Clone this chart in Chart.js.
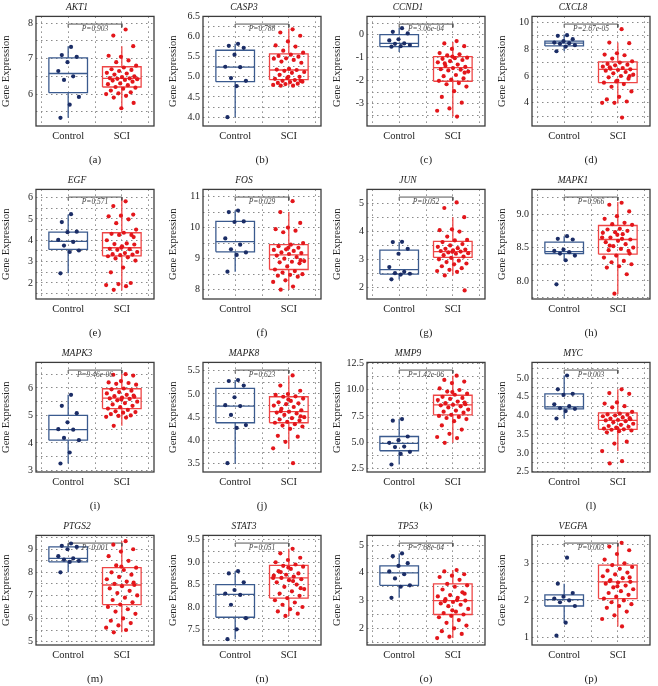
<!DOCTYPE html>
<html>
<head>
<meta charset="utf-8">
<script src="https://cdn.jsdelivr.net/npm/chart.js@4/dist/chart.umd.min.js"></script>
<style>
  body { margin: 0; background: #fff; }
  #wrap { position: relative; width: 658px; height: 686px; overflow: hidden; background: #fff; }
  #wrap canvas { position: absolute; }
</style>
</head>
<body>
<div id="wrap"></div>
<script>
// panel labels
const genes = ["AKT1", "CASP3", "CCND1", "CXCL8", "EGF", "FOS", "JUN", "MAPK1",
  "MAPK3", "MAPK8", "MMP9", "MYC", "PTGS2", "STAT3", "TP53", "VEGFA"];
const panelTags = ["(a)", "(b)", "(c)", "(d)", "(e)", "(f)", "(g)", "(h)",
  "(i)", "(j)", "(k)", "(l)", "(m)", "(n)", "(o)", "(p)"];
const pLabels = ["P=0.903", "P=0.788", "P=3.06e-04", "P=2.67e-05", "P=0.571", "P=0.029", "P=0.052", "P=0.966",
  "P=9.46e-06", "P=0.623", "P=1.42e-06", "P=0.003", "P<0.001", "P=0.051", "P=7.68e-04", "P=0.003"];

// y axis ranges and labelled tick step
const yMin = [5.1, 3.78, -3.96, 2.27, 1.25, 7.7, 1.57, 7.73, 2.94, 3.32, 2.19, 2.49, 4.85, 7.15, 1.4, 0.8];
const yMax = [8.19, 6.5, 0.79, 10.45, 6.38, 11.23, 5.52, 9.37, 6.93, 5.68, 12.56, 5.42, 9.6, 9.6, 5.35, 3.75];
const yStep = [1, 0.5, 1, 2, 1, 1, 1, 0.5, 1, 0.5, 2.5, 0.5, 1, 0.5, 1, 1];
const yDec = [0, 1, 0, 0, 0, 0, 0, 1, 0, 1, 1, 1, 0, 1, 0, 0];

// box stats: [whisker low, q1, median, q3, whisker high]
const ctrlBox = [
  [5.33, 6.04, 6.58, 7.02, 7.35], [4.0, 4.88, 5.24, 5.66, 5.82], [-0.75, -0.52, -0.38, 0.0, 0.3], [7.85, 8.25, 8.45, 8.6, 9.1],
  [2.45, 3.57, 3.95, 4.38, 5.2], [8.58, 9.22, 9.55, 10.2, 10.55], [2.27, 2.47, 2.63, 3.33, 3.62], [8.31, 8.41, 8.44, 8.58, 8.67],
  [3.25, 4.1, 4.48, 5.0, 5.75], [3.5, 4.38, 4.74, 5.12, 5.3], [2.9, 4.2, 4.9, 5.55, 7.2], [3.92, 4.18, 4.23, 4.58, 5.07],
  [8.0, 8.45, 8.6, 9.1, 9.25], [7.28, 7.77, 8.28, 8.5, 8.8], [3.1, 3.55, 4.0, 4.25, 4.7], [1.4, 1.85, 2.02, 2.15, 2.45]
];
const sciBox = [
  [5.6, 6.2, 6.44, 6.77, 7.35], [4.78, 4.93, 5.17, 5.57, 6.2], [-3.55, -2.02, -1.43, -0.95, -0.32], [3.95, 5.5, 6.5, 7.05, 8.5],
  [1.65, 3.27, 3.65, 4.35, 6.0], [8.0, 8.65, 9.12, 9.45, 10.5], [2.42, 3.07, 3.28, 3.65, 4.52], [7.8, 8.4, 8.62, 8.83, 9.18],
  [4.62, 5.25, 5.63, 5.97, 6.5], [3.82, 4.38, 4.62, 4.94, 5.4], [4.95, 7.6, 8.55, 9.45, 11.3], [3.05, 3.63, 3.87, 4.07, 4.7],
  [5.4, 6.6, 7.45, 8.2, 9.35], [7.8, 8.2, 8.65, 8.93, 9.3], [1.65, 2.5, 3.0, 3.6, 4.1], [1.3, 2.05, 2.5, 2.95, 3.55]
];

// sample values
const ctrlPoints = [
  [7.33, 7.1, 7.05, 6.9, 6.65, 6.5, 6.4, 5.92, 5.7, 5.33],
  [5.82, 5.77, 5.72, 5.55, 5.25, 5.24, 4.97, 4.9, 4.77, 4.0],
  [0.28, 0.12, 0.05, -0.2, -0.25, -0.38, -0.4, -0.45, -0.5, -0.52],
  [9.05, 9.0, 8.75, 8.6, 8.5, 8.45, 8.4, 8.3, 8.2, 7.85],
  [5.22, 4.85, 4.4, 4.38, 4.02, 3.92, 3.75, 3.52, 3.45, 2.45],
  [10.55, 10.5, 10.2, 10.18, 9.65, 9.45, 9.3, 9.2, 9.12, 8.58],
  [3.63, 3.62, 3.38, 3.2, 2.72, 2.55, 2.5, 2.48, 2.45, 2.28],
  [8.67, 8.63, 8.62, 8.47, 8.45, 8.43, 8.41, 8.38, 8.31, 7.95],
  [5.75, 5.35, 5.08, 4.75, 4.5, 4.48, 4.18, 4.1, 3.65, 3.25],
  [5.3, 5.28, 5.18, 4.93, 4.76, 4.74, 4.55, 4.33, 4.27, 3.51],
  [7.2, 7.05, 5.55, 5.2, 4.95, 4.6, 4.55, 4.1, 3.9, 2.9],
  [5.07, 4.7, 4.58, 4.55, 4.3, 4.25, 4.2, 4.18, 4.12, 3.92],
  [9.25, 9.15, 9.1, 9.0, 8.7, 8.6, 8.55, 8.5, 8.45, 8.0],
  [8.8, 8.75, 8.55, 8.38, 8.3, 8.27, 8.05, 7.75, 7.5, 7.28],
  [4.7, 4.6, 4.35, 4.25, 4.05, 3.95, 3.8, 3.55, 3.5, 3.1],
  [3.15, 2.45, 2.2, 2.1, 2.05, 2.0, 1.95, 1.85, 1.4, 1.05]
];
const sciPoints = [
  [7.82, 7.65, 7.35, 7.05, 7.08, 6.95, 6.9, 6.8, 6.75, 6.7, 6.68, 6.65, 6.6, 6.58, 6.55, 6.5, 6.48, 6.45, 6.44, 6.43, 6.42, 6.4, 6.38, 6.35, 6.3, 6.28, 6.25, 6.2, 6.18, 6.15, 6.1, 6.05, 6.02, 6.0, 5.95, 5.9, 5.75, 5.6],
  [6.18, 6.1, 6.02, 5.88, 5.78, 5.75, 5.65, 5.6, 5.55, 5.52, 5.5, 5.46, 5.45, 5.42, 5.38, 5.35, 5.2, 5.18, 5.17, 5.15, 5.12, 5.1, 5.05, 5.0, 4.97, 4.95, 4.92, 4.9, 4.88, 4.87, 4.85, 4.83, 4.82, 4.8, 4.78, 4.78, 4.9, 5.0],
  [-0.28, -0.38, -0.5, -0.62, -0.8, -0.85, -0.9, -1.0, -1.02, -1.05, -1.1, -1.15, -1.2, -1.3, -1.35, -1.4, -1.45, -1.5, -1.52, -1.55, -1.6, -1.75, -1.8, -1.9, -1.95, -2.0, -2.1, -2.15, -2.25, -2.45, -2.7, -2.95, -3.2, -3.3, -3.55, -1.25, -1.65, -0.95],
  [9.5, 8.5, 8.45, 7.7, 7.6, 7.55, 7.3, 7.1, 7.0, 6.9, 6.85, 6.8, 6.7, 6.6, 6.55, 6.5, 6.45, 6.4, 6.3, 6.2, 6.1, 6.0, 5.9, 5.8, 5.6, 5.5, 5.4, 5.2, 4.85, 4.45, 4.25, 4.1, 4.0, 4.0, 2.9, 6.65, 6.0, 5.65],
  [5.82, 5.6, 5.2, 5.15, 5.12, 4.98, 4.8, 4.5, 4.35, 4.3, 4.25, 4.25, 4.0, 3.85, 3.82, 3.8, 3.72, 3.6, 3.58, 3.55, 3.45, 3.4, 3.35, 3.33, 3.3, 3.25, 3.2, 3.15, 3.05, 2.72, 2.5, 2.0, 1.95, 1.9, 1.85, 1.68, 4.15, 3.65],
  [10.85, 10.5, 10.15, 10.0, 9.95, 9.9, 9.85, 9.5, 9.45, 9.4, 9.35, 9.3, 9.28, 9.25, 9.2, 9.18, 9.15, 9.1, 9.05, 9.0, 8.92, 8.9, 8.88, 8.85, 8.75, 8.65, 8.6, 8.55, 8.5, 8.48, 8.45, 8.42, 8.3, 8.25, 8.1, 8.0, 8.95, 9.35],
  [5.05, 4.85, 4.52, 4.08, 4.05, 4.0, 3.82, 3.7, 3.68, 3.62, 3.55, 3.5, 3.45, 3.4, 3.38, 3.35, 3.32, 3.3, 3.28, 3.25, 3.22, 3.2, 3.15, 3.1, 3.05, 3.0, 2.95, 2.9, 2.85, 2.82, 2.75, 2.68, 2.62, 2.58, 2.55, 2.42, 1.88, 3.27],
  [9.17, 9.14, 9.04, 8.97, 8.93, 8.87, 8.85, 8.84, 8.78, 8.77, 8.75, 8.73, 8.72, 8.7, 8.65, 8.62, 8.6, 8.58, 8.55, 8.52, 8.5, 8.48, 8.46, 8.45, 8.38, 8.35, 8.3, 8.28, 8.25, 8.22, 8.2, 8.1, 7.81, 8.65, 8.63, 8.53, 8.41, 8.69],
  [6.5, 6.48, 6.45, 6.25, 6.2, 6.18, 6.15, 6.12, 5.98, 5.95, 5.9, 5.85, 5.8, 5.75, 5.7, 5.68, 5.65, 5.62, 5.6, 5.55, 5.5, 5.45, 5.4, 5.35, 5.3, 5.25, 5.2, 5.15, 5.12, 5.1, 5.05, 5.0, 4.98, 4.95, 4.92, 4.62, 5.72, 5.58],
  [5.4, 5.18, 5.07, 5.0, 4.98, 4.95, 4.94, 4.9, 4.85, 4.82, 4.8, 4.78, 4.75, 4.72, 4.68, 4.65, 4.62, 4.6, 4.58, 4.55, 4.5, 4.48, 4.45, 4.43, 4.4, 4.38, 4.35, 4.32, 4.3, 4.25, 4.1, 4.08, 3.97, 3.83, 3.51, 4.63, 4.52, 4.88],
  [11.3, 10.9, 10.75, 10.6, 10.1, 9.95, 9.8, 9.6, 9.5, 9.3, 9.2, 9.1, 9.0, 8.85, 8.7, 8.6, 8.55, 8.5, 8.4, 8.3, 8.1, 8.0, 7.9, 7.8, 7.6, 7.5, 7.4, 7.3, 7.2, 7.0, 6.6, 6.2, 5.8, 5.5, 5.4, 4.95, 8.75, 9.75],
  [4.7, 4.6, 4.58, 4.35, 4.32, 4.25, 4.22, 4.1, 4.05, 4.03, 4.02, 4.0, 3.98, 3.95, 3.92, 3.9, 3.88, 3.87, 3.85, 3.82, 3.78, 3.75, 3.72, 3.7, 3.68, 3.65, 3.63, 3.62, 3.6, 3.58, 3.55, 3.3, 3.25, 3.05, 2.78, 2.72, 3.93, 3.66],
  [9.35, 9.2, 9.0, 8.9, 8.7, 8.5, 8.3, 8.2, 8.1, 8.0, 7.9, 7.8, 7.7, 7.6, 7.5, 7.45, 7.4, 7.3, 7.2, 7.1, 7.0, 6.9, 6.8, 6.7, 6.6, 6.5, 6.4, 6.3, 6.2, 6.0, 5.9, 5.8, 5.7, 5.6, 5.5, 5.4, 7.55, 8.25],
  [9.3, 9.2, 9.1, 9.05, 9.0, 8.95, 8.92, 8.9, 8.85, 8.8, 8.75, 8.72, 8.7, 8.68, 8.65, 8.62, 8.6, 8.55, 8.5, 8.45, 8.4, 8.35, 8.3, 8.25, 8.2, 8.15, 8.1, 8.05, 8.0, 7.95, 7.9, 7.85, 7.8, 8.65, 8.58, 8.78, 8.42, 8.88],
  [4.1, 4.05, 3.95, 3.9, 3.85, 3.75, 3.6, 3.55, 3.5, 3.4, 3.3, 3.2, 3.15, 3.1, 3.05, 3.0, 2.95, 2.9, 2.85, 2.8, 2.7, 2.6, 2.55, 2.5, 2.45, 2.4, 2.3, 2.2, 2.1, 2.0, 1.9, 1.8, 1.7, 1.65, 3.02, 2.98, 3.25, 2.65],
  [3.55, 3.45, 3.35, 3.25, 3.1, 3.0, 2.95, 2.9, 2.85, 2.8, 2.75, 2.7, 2.65, 2.6, 2.55, 2.5, 2.48, 2.45, 2.4, 2.35, 2.3, 2.25, 2.2, 2.15, 2.1, 2.05, 2.0, 1.95, 1.9, 1.85, 1.8, 1.7, 1.6, 1.5, 1.3, 2.52, 2.62, 2.38]
];

Chart.defaults.font.family = "'Liberation Serif', 'DejaVu Serif', serif";
Chart.defaults.color = "#222";

const CTRL_LINE = "#3a5a8e", CTRL_DOT = "#1b2d66";
const SCI_LINE = "#ee4545", SCI_DOT = "#e3161b";
const HALF = 0.36;

// spread points sideways so they don't overlap
const jitter = (i, w) => ((((i + 1) * 0.6180339887) % 1) - 0.5) * w;

const framePlugin = {
  id: "frame",
  afterDraw(chart) {
    const { ctx, chartArea: a } = chart;
    ctx.save();
    ctx.strokeStyle = "#3c3c3c";
    ctx.lineWidth = 1.3;
    ctx.strokeRect(a.left, a.top, a.right - a.left, a.bottom - a.top);
    ctx.restore();
  }
};

const pTextPlugin = {
  id: "ptext",
  afterDatasetsDraw(chart, args, opts) {
    const { ctx, scales } = chart;
    ctx.save();
    ctx.fillStyle = "#444";
    ctx.font = "italic 7.5px 'Liberation Serif', serif";
    ctx.textAlign = "center";
    ctx.textBaseline = "top";
    ctx.fillText(opts.text, scales.x.getPixelForValue(1.5), scales.y.getPixelForValue(opts.y) + 1.5);
    ctx.restore();
  }
};

const boxSets = (c, b, line) => {
  const base = { showLine: true, pointRadius: 0, borderColor: line, borderWidth: 1.3, fill: false, order: 2 };
  return [
    { ...base, data: [{ x: c - HALF, y: b[1] }, { x: c + HALF, y: b[1] }, { x: c + HALF, y: b[3] }, { x: c - HALF, y: b[3] }, { x: c - HALF, y: b[1] }] },
    { ...base, data: [{ x: c - HALF, y: b[2] }, { x: c + HALF, y: b[2] }] },
    { ...base, data: [{ x: c, y: b[0] }, { x: c, y: b[1] }] },
    { ...base, data: [{ x: c, y: b[3] }, { x: c, y: b[4] }] }
  ];
};

const lefts = [0, 167, 331, 496];
const tops = [0, 173, 346, 519];
const wrap = document.getElementById("wrap");

genes.forEach((gene, i) => {
  const canvas = document.createElement("canvas");
  canvas.width = 162;
  canvas.height = 172;
  canvas.style.left = lefts[i % 4] + "px";
  canvas.style.top = tops[Math.floor(i / 4)] + "px";
  wrap.appendChild(canvas);

  const range = yMax[i] - yMin[i];
  const by = yMax[i] - 0.07 * range;
  const drop = 0.03 * range;
  const half = yStep[i] / 2;

  const datasets = [
    { data: ctrlPoints[i].map((v, k) => ({ x: 1 + jitter(k, 0.45), y: v })), pointRadius: 2.1, pointBackgroundColor: CTRL_DOT, pointBorderWidth: 0, order: 0 },
    { data: sciPoints[i].map((v, k) => ({ x: 2 + jitter(k, 0.6), y: v })), pointRadius: 2.1, pointBackgroundColor: SCI_DOT, pointBorderWidth: 0, order: 0 },
    ...boxSets(1, ctrlBox[i], CTRL_LINE),
    ...boxSets(2, sciBox[i], SCI_LINE),
    { showLine: true, pointRadius: 0, borderColor: "#555", borderWidth: 1, order: 1,
      data: [{ x: 1, y: by - drop }, { x: 1, y: by }, { x: 2, y: by }, { x: 2, y: by - drop }] }
  ];

  new Chart(canvas, {
    type: "scatter",
    data: { datasets },
    options: {
      responsive: false,
      animation: false,
      events: [],
      layout: { padding: { left: 0, right: 8, top: 0, bottom: 0 } },
      plugins: {
        legend: { display: false },
        tooltip: { enabled: false },
        title: { display: true, text: gene, font: { size: 9.5, style: "italic", weight: "normal" }, color: "#222", padding: { top: 2, bottom: 3 } },
        ptext: { text: pLabels[i], y: by }
      },
      scales: {
        x: {
          type: "linear", min: 0.4, max: 2.6,
          afterBuildTicks: (ax) => { ax.ticks = [0.5, 1, 1.5, 2, 2.5].map((v) => ({ value: v })); },
          afterFit: (ax) => { ax.height = 46; },
          ticks: { callback: (v) => (v === 1 ? "Control" : v === 2 ? "SCI" : ""), font: { size: 10.5 }, color: "#222", padding: 4, maxRotation: 0, autoSkip: false },
          grid: { color: "#8a8a8a", lineWidth: 1, drawTicks: false },
          border: { display: false, dash: [1.5, 3.5] },
          title: { display: true, text: panelTags[i], font: { size: 11 }, color: "#222", padding: { top: 8, bottom: 5 } }
        },
        y: {
          min: yMin[i], max: yMax[i],
          afterBuildTicks: (ax) => {
            const t = [];
            for (let k = Math.ceil(yMin[i] / half - 1e-9); k * half <= yMax[i] + 1e-9; k++) t.push({ value: +(k * half).toFixed(4) });
            ax.ticks = t;
          },
          afterFit: (ax) => { ax.width = 36; },
          ticks: {
            callback: (v) => (Math.abs(v / yStep[i] - Math.round(v / yStep[i])) < 1e-6 ? v.toFixed(yDec[i]) : ""),
            font: { size: 10 }, color: "#222", padding: 3, autoSkip: false
          },
          grid: { color: "#8a8a8a", lineWidth: 1, drawTicks: false },
          border: { display: false, dash: [1.5, 3.5] },
          title: { display: true, text: "Gene Expression", font: { size: 10.5 }, color: "#222", padding: 0 }
        }
      }
    },
    plugins: [framePlugin, pTextPlugin]
  });
});
</script>
</body>
</html>
